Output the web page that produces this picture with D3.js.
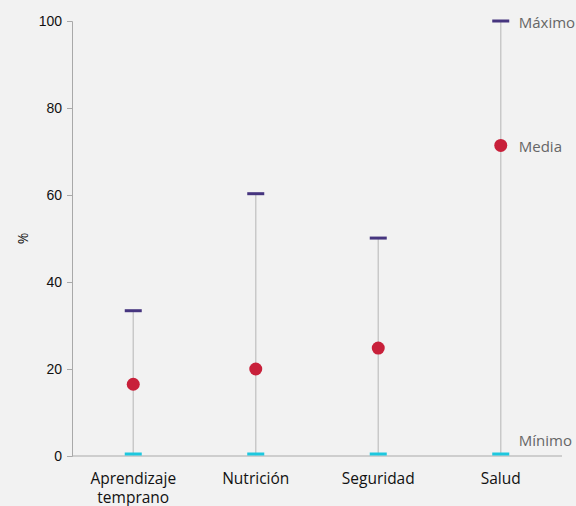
<!DOCTYPE html>
<html>
<head>
<meta charset="utf-8">
<script src="https://cdn.jsdelivr.net/npm/d3@7"></script>
<style>
body { margin: 0; background: #f2f2f2; }
svg { display: block; font-family: "Open Sans", "Noto Sans", sans-serif; }
</style>
</head>
<body>
<div id="chart"></div>
<script>
var W = 576, H = 506;
var categories = [["Aprendizaje", "temprano"], ["Nutrición"], ["Seguridad"], ["Salud"]];
var maxValues = [33.4, 60.3, 50.1, 100];
var meanValues = [16.5, 20.0, 24.8, 71.4];
var minValues = [0, 0, 0, 0];
var yTicks = [0, 20, 40, 60, 80, 100];

var purple = "#46357f";
var red = "#c8203a";
var cyan = "#1ec8df";
var stemGrey = "#c9c9c9";
var axisGrey = "#a9a9a9";

var margin = {left: 72, right: 14, top: 21, bottom: 50};

var svg = d3.select("#chart").append("svg")
	.attr("width", W)
	.attr("height", H);

svg.append("rect").attr("width", W).attr("height", H).attr("fill", "#f2f2f2");

var x = d3.scaleBand()
	.domain(d3.range(categories.length))
	.range([margin.left, W - margin.right]);

var y = d3.scaleLinear()
	.domain([0, 100])
	.range([H - margin.bottom, margin.top]);

// y axis
var yAxis = svg.append("g")
	.attr("transform", "translate(" + margin.left + ",0)")
	.call(d3.axisLeft(y).tickValues(yTicks).tickSize(5).tickPadding(5));
yAxis.select(".domain").attr("stroke", axisGrey);
yAxis.selectAll(".tick line").attr("stroke", axisGrey);
yAxis.selectAll("text").style("font-size", "14px").attr("fill", "#111");

svg.append("text")
	.attr("transform", "translate(28," + y(50) + ") rotate(-90)")
	.attr("text-anchor", "middle")
	.style("font-size", "14px")
	.attr("fill", "#111")
	.text("%");

// x axis line
svg.append("line")
	.attr("x1", margin.left).attr("x2", W - margin.right)
	.attr("y1", y(0)).attr("y2", y(0))
	.attr("stroke", axisGrey).attr("stroke-width", 1.2);

var cx = i => x(i) + x.bandwidth() / 2;
var idx = d3.range(categories.length);

// stems
svg.selectAll(".stem")
	.data(idx)
	.enter()
	.append("line")
	.attr("x1", cx).attr("x2", cx)
	.attr("y1", i => y(minValues[i]))
	.attr("y2", i => y(maxValues[i]))
	.attr("stroke", stemGrey)
	.attr("stroke-width", 1.5);

// max markers
svg.selectAll(".max")
	.data(idx)
	.enter()
	.append("rect")
	.attr("x", i => cx(i) - 8.5)
	.attr("y", i => y(maxValues[i]) - 1.5)
	.attr("width", 17)
	.attr("height", 3)
	.attr("fill", purple);

// min markers
svg.selectAll(".min")
	.data(idx)
	.enter()
	.append("rect")
	.attr("x", i => cx(i) - 8.5)
	.attr("y", i => y(minValues[i]) - 3.5)
	.attr("width", 17)
	.attr("height", 3)
	.attr("fill", cyan);

// means
svg.selectAll(".mean")
	.data(idx)
	.enter()
	.append("circle")
	.attr("cx", cx)
	.attr("cy", i => y(meanValues[i]))
	.attr("r", 6.5)
	.attr("fill", red);

// category labels
var cl = svg.selectAll(".cat")
	.data(idx)
	.enter()
	.append("text")
	.attr("x", cx)
	.attr("y", y(0) + 28)
	.attr("text-anchor", "middle")
	.style("font-size", "15.5px")
	.attr("fill", "#111");
cl.selectAll("tspan")
	.data(i => categories[i].map(t => ({t: t, x: cx(i)})))
	.enter()
	.append("tspan")
	.attr("x", d => d.x)
	.attr("dy", (d, j) => j === 0 ? 0 : 19)
	.text(d => d.t);

// legend labels next to the last category
var last = categories.length - 1;
var legend = [
	{t: "Máximo", v: maxValues[last], dy: 6.5},
	{t: "Media", v: meanValues[last], dy: 6.5},
	{t: "Mínimo", v: minValues[last], dy: -10}
];
svg.selectAll(".leg")
	.data(legend)
	.enter()
	.append("text")
	.attr("x", cx(last) + 18)
	.attr("y", d => y(d.v) + d.dy)
	.style("font-size", "15px")
	.attr("fill", "#666")
	.text(d => d.t);
</script>
</body>
</html>
